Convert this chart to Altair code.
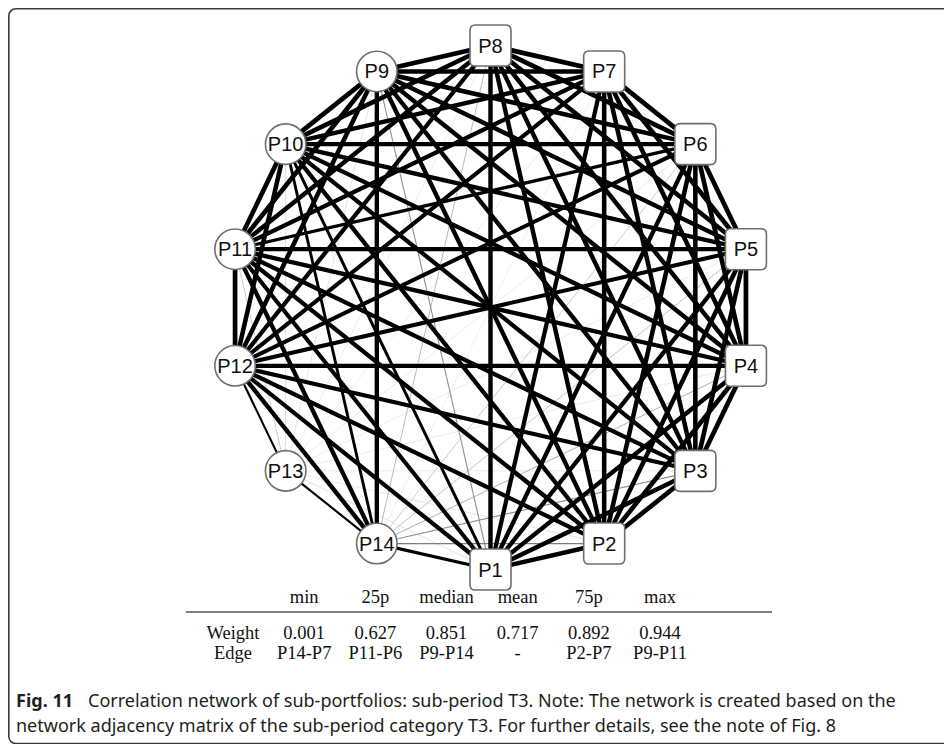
import altair as alt
import numpy as np
import pandas as pd

# ---------------- data ----------------
nodes = ["P1", "P2", "P3", "P4", "P5", "P6", "P7", "P8",
         "P9", "P10", "P11", "P12", "P13", "P14"]
box_nodes = ["P1", "P2", "P3", "P4", "P5", "P6", "P7", "P8"]
circle_nodes = ["P9", "P10", "P11", "P12", "P13", "P14"]

# upper-triangle edge weights: from node Pk to P(k+1) ... P14
w_from_P1 = [0.90, 0.88, 0.86, 0.84, 0.85, 0.83, 0.87, 0.12, 0.55, 0.80, 0.82, 0.02, 0.60]
w_from_P2 = [0.92, 0.91, 0.89, 0.90, 0.892, 0.88, 0.86, 0.84, 0.86, 0.83, 0.015, 0.15]
w_from_P3 = [0.93, 0.91, 0.90, 0.89, 0.87, 0.85, 0.83, 0.84, 0.80, 0.01, 0.12]
w_from_P4 = [0.94, 0.92, 0.90, 0.88, 0.86, 0.85, 0.83, 0.81, 0.01, 0.08]
w_from_P5 = [0.93, 0.91, 0.89, 0.87, 0.85, 0.82, 0.80, 0.01, 0.06]
w_from_P6 = [0.93, 0.92, 0.88, 0.86, 0.627, 0.78, 0.01, 0.05]
w_from_P7 = [0.94, 0.91, 0.87, 0.84, 0.79, 0.005, 0.001]
w_from_P8 = [0.93, 0.90, 0.88, 0.83, 0.01, 0.07]
w_from_P9 = [0.93, 0.944, 0.89, 0.02, 0.851]
w_from_P10 = [0.92, 0.90, 0.03, 0.52]
w_from_P11 = [0.93, 0.05, 0.84]
w_from_P12 = [0.35, 0.86]
w_from_P13 = [0.35]
weight_rows = [w_from_P1, w_from_P2, w_from_P3, w_from_P4, w_from_P5, w_from_P6, w_from_P7,
               w_from_P8, w_from_P9, w_from_P10, w_from_P11, w_from_P12, w_from_P13]

# summary table
stat_labels = ["min", "25p", "median", "mean", "75p", "max"]
row_labels = ["Weight", "Edge"]
weight_stats = ["0.001", "0.627", "0.851", "0.717", "0.892", "0.944"]
edge_stats = ["P14-P7", "P11-P6", "P9-P14", "-", "P2-P7", "P9-P11"]

caption_bold = "Fig. 11"
caption_line1 = "Correlation network of sub-portfolios: sub-period T3. Note: The network is created based on the"
caption_line2 = "network adjacency matrix of the sub-period category T3. For further details, see the note of Fig. 8"

# ---------------- layout (circle) ----------------
W, H = 936, 736
n = len(nodes)
angles = np.deg2rad(-90 + np.arange(n) * 360.0 / n)
px = dict(zip(nodes, np.cos(angles)))
py = dict(zip(nodes, np.sin(angles)))

node_df = pd.DataFrame({"node": nodes, "x": [px[k] for k in nodes], "y": [py[k] for k in nodes]})
node_df["kind"] = np.where(node_df["node"].isin(box_nodes), "box", "circle")

rows = []
for i, ws in enumerate(weight_rows):
    a = nodes[i]
    for j, w in enumerate(ws):
        b = nodes[i + 1 + j]
        rows.append({"a": a, "b": b, "w": w, "x": px[a], "y": py[a], "x2": px[b], "y2": py[b]})
edge_df = pd.DataFrame(rows).sort_values("w").reset_index(drop=True)
edge_df["order"] = np.arange(len(edge_df))

# pixel mapping: centre of circle and radius in plot pixels
cx, cy, R = 482.5, 299.5, 262.0
xs = alt.Scale(domain=[-cx / R, (W - cx) / R], nice=False, zero=False)
ys = alt.Scale(domain=[(cy - H) / R, cy / R], nice=False, zero=False)

edges = alt.Chart(edge_df).mark_rule(strokeCap="butt").encode(
    x=alt.X("x:Q", scale=xs, axis=None),
    y=alt.Y("y:Q", scale=ys, axis=None),
    x2="x2:Q",
    y2="y2:Q",
    strokeWidth=alt.StrokeWidth("w:Q", scale=alt.Scale(domain=[0, 1], range=[0.6, 5.0]), legend=None),
    color=alt.Color("w:Q", scale=alt.Scale(domain=[0, 0.35], range=["#e6e6e6", "#000000"], clamp=True),
                    legend=None),
    order="order:Q",
)

ROUNDED = ("M-0.74,-1 L0.74,-1 Q1,-1 1,-0.74 L1,0.74 Q1,1 0.74,1 L-0.74,1 "
           "Q-1,1 -1,0.74 L-1,-0.74 Q-1,-1 -0.74,-1 Z")

box_layer = alt.Chart(node_df[node_df.kind == "box"]).mark_point(
    shape=ROUNDED, size=1681, filled=True, fill="white", stroke="#6f6f6f",
    strokeWidth=1.6, opacity=1, fillOpacity=1, strokeOpacity=1
).encode(x=alt.X("x:Q", scale=xs, axis=None), y=alt.Y("y:Q", scale=ys, axis=None))

circle_layer = alt.Chart(node_df[node_df.kind == "circle"]).mark_point(
    shape="circle", size=1640, filled=True, fill="white", stroke="#6f6f6f",
    strokeWidth=1.6, opacity=1, fillOpacity=1, strokeOpacity=1
).encode(x=alt.X("x:Q", scale=xs, axis=None), y=alt.Y("y:Q", scale=ys, axis=None))

labels = alt.Chart(node_df).mark_text(
    font="Liberation Sans", fontSize=20, color="#111111", align="center", baseline="middle", dy=1
).encode(x=alt.X("x:Q", scale=xs, axis=None), y=alt.Y("y:Q", scale=ys, axis=None), text="node:N")

# ---------------- table ----------------
col_scale = alt.Scale(domain=[0, 6], range=[225, 652], nice=False, zero=False)
head_df = pd.DataFrame({"col": np.arange(1, 7), "txt": stat_labels})
body_df = pd.DataFrame({
    "col": [0] + list(range(1, 7)) + [0] + list(range(1, 7)),
    "row": [0] * 7 + [1] * 7,
    "txt": [row_labels[0]] + weight_stats + [row_labels[1]] + edge_stats,
})
tfont = dict(font="Liberation Serif", fontSize=18.5, color="#111111", align="center", baseline="middle")
head = alt.Chart(head_df).mark_text(**tfont).encode(
    x=alt.X("col:Q", scale=col_scale, axis=None), y=alt.value(589), text="txt:N")
body = alt.Chart(body_df).mark_text(**tfont).encode(
    x=alt.X("col:Q", scale=col_scale, axis=None),
    y=alt.Y("row:Q", scale=alt.Scale(domain=[0, 1], range=[625, 645], nice=False, zero=False), axis=None),
    text="txt:N")
midrule = alt.Chart(pd.DataFrame({"k": [0]})).mark_rule(color="#000000", strokeWidth=1.2).encode(
    x=alt.value(178), x2=alt.value(764), y=alt.value(604))

# ---------------- caption & frame ----------------
cap_df = pd.DataFrame({"k": [0]})
cap_bold = alt.Chart(cap_df).mark_text(
    text=caption_bold, font="Noto Sans", fontWeight="bold", fontSize=18, color="#231f20",
    align="left", baseline="middle").encode(x=alt.value(8), y=alt.value(694))
cap_l1 = alt.Chart(cap_df).mark_text(
    text=caption_line1, font="Noto Sans", fontSize=18, color="#231f20",
    align="left", baseline="middle").encode(x=alt.value(80), y=alt.value(694))
cap_l2 = alt.Chart(cap_df).mark_text(
    text=caption_line2, font="Noto Sans", fontSize=18, color="#231f20",
    align="left", baseline="middle").encode(x=alt.value(8), y=alt.value(719))

frame = alt.Chart(cap_df).mark_rect(
    fillOpacity=0, stroke="#3a3a3a", strokeWidth=1.6, cornerRadius=7
).encode(x=alt.value(0.8), x2=alt.value(990), y=alt.value(0.8), y2=alt.value(735.5))

chart = alt.layer(
    frame, edges, box_layer, circle_layer, labels, head, body, midrule, cap_bold, cap_l1, cap_l2
).resolve_scale(
    x="independent", y="independent", color="independent", strokeWidth="independent"
).properties(
    width=W, height=H, padding=0, autosize=alt.AutoSizeParams(type="none")
).configure_view(stroke=None)

chart.save("out.html", embed_options={"renderer": "svg", "actions": False})
